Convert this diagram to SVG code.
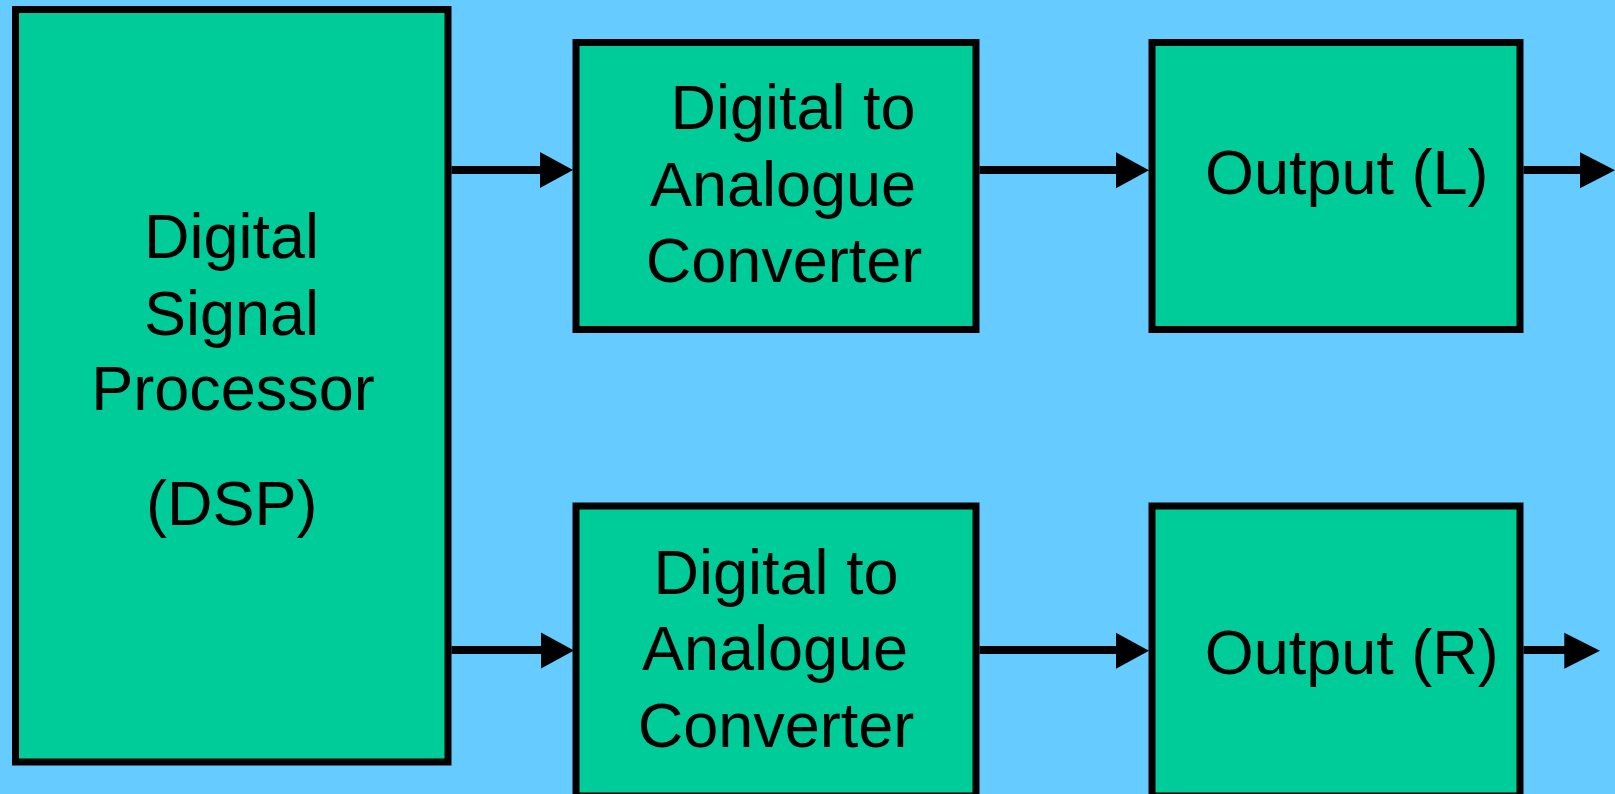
<svg xmlns="http://www.w3.org/2000/svg" width="1615" height="794" viewBox="0 0 1615 794">
  <style>
    .box { fill: #00CC99; stroke: #000000; stroke-width: 7; }
    .lbl { font-family: "Liberation Sans", Arial, sans-serif; font-size: 63px; fill: #000000; text-anchor: middle; }
    .conn { stroke: #000000; stroke-width: 8; fill: none; }
    .head { fill: #000000; }
  </style>
  <rect x="0" y="0" width="1615" height="794" fill="#66CCFF"/>

  <g id="dsp">
    <rect class="box" x="15.5" y="9.5" width="432.5" height="752.5"/>
    <text class="lbl" x="231.5" y="258.3">Digital</text>
    <text class="lbl" x="231.5" y="335">Signal</text>
    <text class="lbl" x="233" y="410">Processor</text>
    <text class="lbl" x="231.7" y="525">(DSP)</text>
  </g>

  <g id="dac-top">
    <rect class="box" x="576" y="42.5" width="400" height="287"/>
    <text class="lbl" x="793" y="129.3">Digital to</text>
    <text class="lbl" x="783" y="206">Analogue</text>
    <text class="lbl" x="784" y="281.7">Converter</text>
  </g>

  <g id="dac-bottom">
    <rect class="box" x="576" y="506" width="400" height="290"/>
    <text class="lbl" x="776" y="594.3">Digital to</text>
    <text class="lbl" x="775" y="670">Analogue</text>
    <text class="lbl" x="776" y="746.7">Converter</text>
  </g>

  <g id="output-l">
    <rect class="box" x="1152" y="42.5" width="368" height="287"/>
    <text class="lbl" x="1346.7" y="194.3">Output (L)</text>
  </g>

  <g id="output-r">
    <rect class="box" x="1152" y="506" width="368" height="290"/>
    <text class="lbl" x="1351.7" y="674.3">Output (R)</text>
  </g>

  <g id="connectors">
    <line class="conn" x1="451.5" y1="170" x2="550" y2="170"/>
    <polygon class="head" points="540,152 573,170 540,188"/>
    <line class="conn" x1="451.5" y1="650" x2="550" y2="650"/>
    <polygon class="head" points="541,632.5 574,650.5 541,668.5"/>
    <line class="conn" x1="979.5" y1="170" x2="1126" y2="170"/>
    <polygon class="head" points="1116,152.3 1149,170.3 1116,188.3"/>
    <line class="conn" x1="979.5" y1="650" x2="1126" y2="650"/>
    <polygon class="head" points="1116,632.7 1149,650.7 1116,668.7"/>
    <line class="conn" x1="1523.5" y1="170" x2="1590" y2="170"/>
    <polygon class="head" points="1580,152.3 1615,170.3 1580,188.3"/>
    <line class="conn" x1="1523.5" y1="650" x2="1575" y2="650"/>
    <polygon class="head" points="1564.3,632.7 1600,650.7 1564.3,668.7"/>
  </g>
</svg>
